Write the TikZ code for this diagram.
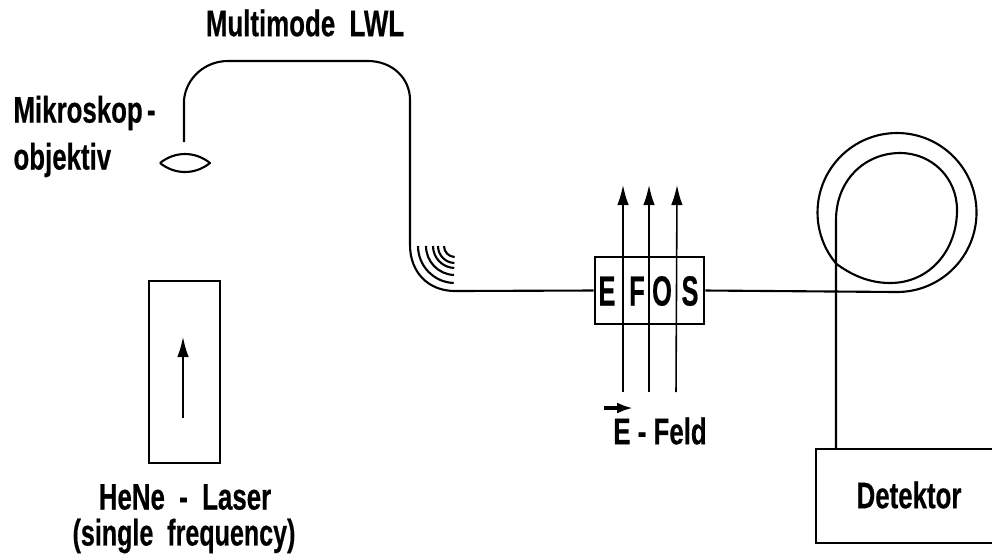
\documentclass[tikz,border=0pt]{standalone}
\usepackage{fontspec}
\setmainfont{Liberation Sans}[BoldFeatures={FakeBold=0.6}]
\usetikzlibrary{arrows.meta}
\tikzset{
  label/.style={font=\bfseries\fontsize{10.5}{11}\selectfont, xscale=0.7, inner sep=0pt, align=center},
  fibre/.style={line width=0.6pt, line join=round},
  boxline/.style={line width=0.8pt, draw, inner sep=0pt},
  field/.style={line width=0.45pt, -{Latex[length=2mm,width=1.15mm]}}
}
\begin{document}
\begin{tikzpicture}[x=0.01cm,y=-0.01cm]
\useasboundingbox (0,0) rectangle (992,557);
% boxes
\node[boxline, minimum width=0.71cm, minimum height=1.82cm] (laser) at (184.5,372) {};
\node[boxline, minimum width=1.09cm, minimum height=0.67cm] (efos) at (649.5,290.5) {};
\coordinate (detTL) at (816,449);
\coordinate (detBL) at (816,543);
\draw[line width=0.8pt] (992,449) -- (detTL) -- (detBL) -- (992,543);
% lens
\coordinate (lensL) at (160,163);
\coordinate (lensR) at (210,163);
\draw[fibre] (lensL) .. controls (175,151) and (195,151) .. (lensR) .. controls (195,175) and (175,175) .. (lensL);
% multimode fibre
\coordinate (fibreStart) at (184,142);
\draw[fibre] (fibreStart) -- (184,100) .. controls (186,78) and (205,61) .. (228,61) -- (368,61)
  .. controls (392,61) and (410,78) .. (410,100) -- (410,245) .. controls (410,272) and (428,291) .. (455,291) -- (efos.west);
% bending arcs
\foreach \r in {37,29,22,17,11}
  \draw[line width=0.6pt] (455-\r,246) arc (180:92:\r);
% coil
\coordinate (coilEnd) at (836,449);
\draw[fibre] (efos.east) -- (897,292) arc (90:-220:79.5) .. controls (850,274) and (868,283) .. (890,283)
  .. controls (930,283) and (957,250) .. (957,210) .. controls (957,178) and (932,153) .. (900,153)
  .. controls (865,153) and (836,180) .. (836,220) -- (coilEnd);
% field arrows
\foreach \x/\xt in {623/623,649/649,676/677}
  \draw[field] (\x,392) -- (\xt,185);
\draw[field] (183,418) -- (183,337);
% letters
\foreach \x/\t in {607/E,637/F,662/O,690/S}
  \node[label, xscale=0.86, font=\bfseries\fontsize{12}{13}\selectfont] at (\x,291) {\t};
% labels
\node[label] (lwl) at (305,23) {Multimode\ \ LWL};
\node[label, anchor=west] (mikro) at (13,113) {Mikroskop\,-};
\node[label, anchor=west] (objektiv) at (13,160) {objektiv};
\node[label] (laserA) at (185,497) {HeNe\ \ -\ \ Laser};
\node[label, xscale=0.97] (laserB) at (184,536) {(single\ \ frequency)};
\node[label] (feld) at (660,431) {E\ -\ Feld};
\draw[line width=0.9pt, -{Latex[length=1.6mm,width=1.1mm]}] (604,408) -- (633,408);
\node[label] (det) at (909,495) {Detektor};
\end{tikzpicture}
\end{document}
